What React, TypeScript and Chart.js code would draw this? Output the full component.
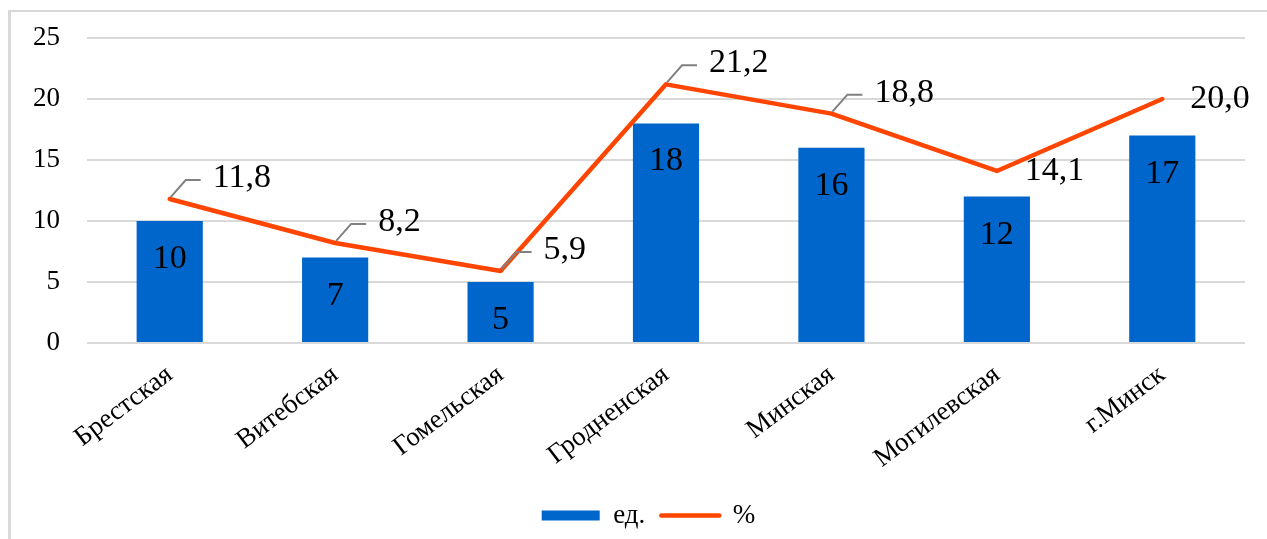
import React, { useEffect, useRef } from 'react';
import { Chart, registerables } from 'chart.js';

Chart.register(...registerables);

const categories = ['Брестская', 'Витебская', 'Гомельская', 'Гродненская', 'Минская', 'Могилевская', 'г.Минск'];
const units = [10, 7, 5, 18, 16, 12, 17];
const percents = [11.8, 8.2, 5.9, 21.2, 18.8, 14.1, 20.0];
const yTicks = [0, 5, 10, 15, 20, 25];
const seriesNames = ['ед.', '%'];
const percentLabelPlacement = ['leader', 'leader', 'leader', 'leader', 'leader', 'right', 'right'];

const BLUE = '#0066CC';
const ORANGE = '#FF4500';
const FONT = '"Liberation Serif", "Times New Roman", serif';

const fmt = (v: number) => v.toFixed(1).replace('.', ',');

const valueLabels = {
  id: 'valueLabels',
  afterLayout(chart: any) {
    const lg = chart.legend;
    if (lg) {
      lg.left += 21;
      lg.right += 21;
    }
  },
  afterDatasetsDraw(chart: any) {
    const ctx = chart.ctx;
    ctx.save();
    ctx.font = `34px ${FONT}`;
    ctx.fillStyle = '#000';
    ctx.textBaseline = 'middle';
    const barMeta = chart.getDatasetMeta(0);
    barMeta.data.forEach((bar: any, i: number) => {
      ctx.textAlign = 'center';
      ctx.fillText(String(units[i]), bar.x, bar.y + 38);
    });
    const lineMeta = chart.getDatasetMeta(1);
    lineMeta.data.forEach((pt: any, i: number) => {
      const txt = fmt(percents[i]);
      ctx.textAlign = 'left';
      if (percentLabelPlacement[i] === 'leader') {
        ctx.strokeStyle = '#808080';
        ctx.lineWidth = 2;
        ctx.beginPath();
        ctx.moveTo(pt.x + 1, pt.y - 2);
        ctx.lineTo(pt.x + 16, pt.y - 19);
        ctx.lineTo(pt.x + 31, pt.y - 19);
        ctx.stroke();
        ctx.fillText(txt, pt.x + 43, pt.y - 21);
      } else {
        ctx.fillText(txt, pt.x + 28, pt.y);
      }
    });
    ctx.restore();
  },
};

export default function App() {
  const ref = useRef<HTMLCanvasElement | null>(null);

  useEffect(() => {
    if (!ref.current) return;
    const chart = new Chart(ref.current, {
      type: 'bar',
      data: {
        labels: categories,
        datasets: [
          {
            type: 'bar',
            label: seriesNames[0],
            data: units,
            backgroundColor: BLUE,
            borderWidth: 0,
            barPercentage: 0.4,
            categoryPercentage: 1,
            order: 1,
          },
          {
            type: 'line',
            label: seriesNames[1],
            data: percents,
            borderColor: ORANGE,
            backgroundColor: ORANGE,
            borderWidth: 4.5,
            pointRadius: 0,
            tension: 0,
            borderCapStyle: 'round',
            borderJoinStyle: 'round',
            order: 0,
          } as any,
        ],
      },
      options: {
        animation: false,
        responsive: false,
        maintainAspectRatio: false,
        layout: { padding: { left: 10, right: 22, top: 38, bottom: 0 } },
        plugins: {
          tooltip: { enabled: false },
          legend: {
            position: 'bottom',
            labels: {
              usePointStyle: true,
              pointStyleWidth: 58,
              boxHeight: 10,
              padding: 16,
              color: '#000',
              font: { family: FONT, size: 27 },
              sort: (a: any, b: any) => a.datasetIndex - b.datasetIndex,
              generateLabels: (chart: any) =>
                chart.data.datasets.map((ds: any, i: number) => ({
                  text: ds.label,
                  datasetIndex: i,
                  fillStyle: i === 0 ? BLUE : ORANGE,
                  strokeStyle: i === 0 ? BLUE : ORANGE,
                  lineWidth: i === 0 ? 0 : 4.5,
                  lineCap: 'round',
                  pointStyle: i === 0 ? 'rect' : 'line',
                  hidden: false,
                  fontColor: '#000',
                })),
            },
          },
        },
        scales: {
          x: {
            grid: { display: false },
            border: { display: false },
            ticks: {
              color: '#000',
              font: { family: FONT, size: 27 },
              minRotation: 37,
              maxRotation: 37,
              padding: 8,
              autoSkip: false,
            },
            afterFit: (s: any) => { s.height = 143; },
          },
          y: {
            min: 0,
            max: 25,
            afterBuildTicks: (s: any) => { s.ticks = yTicks.map((v) => ({ value: v })); },
            grid: { color: '#d9d9d9', lineWidth: 2, drawTicks: false },
            border: { display: false },
            ticks: {
              color: '#000',
              font: { family: FONT, size: 27 },
              padding: 27,
            },
            afterFit: (s: any) => {
              s.width = 77;
              s.paddingTop = 0;
              s.paddingBottom = 0;
            },
          },
        },
      },
      plugins: [valueLabels],
    });
    return () => chart.destroy();
  }, []);

  return (
    <div style={{ position: 'fixed', left: 0, top: 0, width: 1267, height: 539, background: '#fff', overflow: 'hidden' }}>
      <div
        style={{
          position: 'absolute',
          left: 8,
          top: 10,
          width: 1400,
          height: 700,
          borderLeft: '3px solid #d9d9d9',
          borderTop: '2px solid #d9d9d9',
        }}
      />
      <canvas ref={ref} width={1267} height={539} style={{ position: 'absolute', left: 0, top: 0 }} />
    </div>
  );
}
